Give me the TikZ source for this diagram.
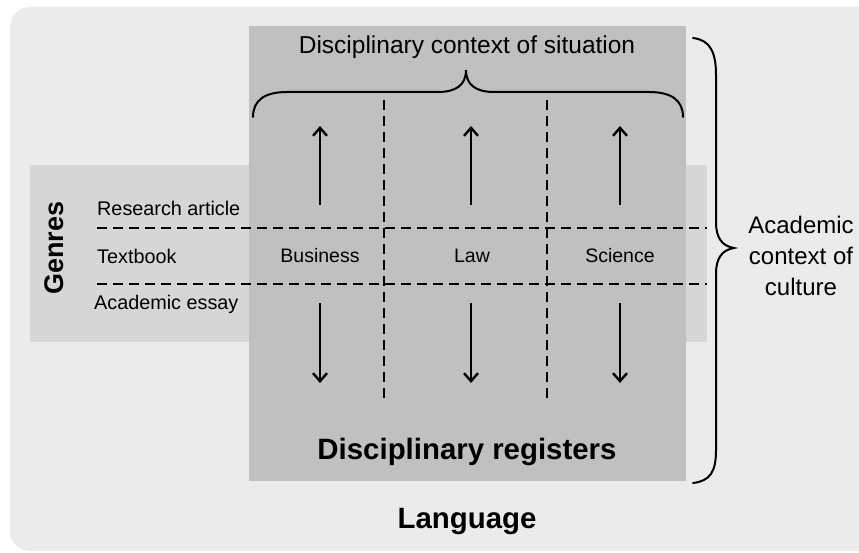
\documentclass[tikz,border=0pt]{standalone}
\usepackage{fontspec}
\setmainfont{Liberation Sans}
\usetikzlibrary{arrows.meta}
\definecolor{outerbg}{HTML}{EBEBEB}
\definecolor{genreband}{HTML}{D6D6D6}
\definecolor{registerbox}{HTML}{C0C0C0}
\tikzset{
  divider/.style={line width=1.5pt, dash pattern=on 10pt off 6pt},
  flow/.style={line width=2.4pt, -{Straight Barb[length=8pt,width=14pt,line width=2.4pt]}},
  bracepath/.style={line width=2pt, line cap=round},
  genre/.style={anchor=west, inner sep=0pt, font=\fontsize{19.8}{23}\selectfont},
  field/.style={inner sep=0pt, font=\fontsize{19.5}{22}\selectfont},
  heading/.style={inner sep=0pt, font=\fontsize{29.4}{34}\selectfont\bfseries},
}
\begin{document}
\begin{tikzpicture}[x=1pt, y=-1pt]
  \useasboundingbox (0,0) rectangle (859,553);
  \clip (0,0) rectangle (859,553);

  % layered backgrounds
  \fill[outerbg, rounded corners=20pt] (10,7) rectangle (890,551);
  \fill[genreband] (30,165) rectangle (707,342);
  \fill[registerbox] (249,26) rectangle (686,481);

  % genre dividers
  \coordinate (h1a) at (97,228);  \coordinate (h1b) at (707,228);
  \coordinate (h2a) at (97,284);  \coordinate (h2b) at (707,284);
  \draw[divider] (h1a) -- (h1b);
  \draw[divider] (h2a) -- (h2b);

  % discipline dividers
  \coordinate (v1a) at (384,100); \coordinate (v1b) at (384,402);
  \coordinate (v2a) at (547,100); \coordinate (v2b) at (547,402);
  \draw[divider] (v1a) -- (v1b);
  \draw[divider] (v2a) -- (v2b);

  % genre labels
  \node[genre] (research) at (97,208) {Research article};
  \node[genre] (textbook) at (97,256) {Textbook};
  \node[genre] (essay) at (94,304) {Academic essay};
  \node[inner sep=0pt, rotate=90, font=\fontsize{27}{32}\selectfont\bfseries] (genres) at (54,248) {Genres};

  % disciplines
  \node[field] (business) at (320,256) {Business};
  \node[field] (law) at (472,256) {Law};
  \node[field] (science) at (620,256) {Science};

  % arrows up and down from each discipline
  \foreach \n/\x in {business/320, law/471, science/620}{
    \coordinate (\n-up0) at (\x,205);
    \coordinate (\n-up1) at (\x,126);
    \coordinate (\n-dn0) at (\x,303);
    \coordinate (\n-dn1) at (\x,383);
    \draw[flow] (\n-up0) -- (\n-up1);
    \draw[flow] (\n-dn0) -- (\n-dn1);
  }

  % top brace and its label
  \node[inner sep=0pt, font=\fontsize{24.5}{29}\selectfont] (situation) at (467,47) {Disciplinary context of situation};
  \draw[bracepath] (253,117) .. controls (253,100) and (265,92) .. (287,92)
    -- (438,92) .. controls (456,92) and (466,85) .. (466,70)
    .. controls (466,85) and (476,92) .. (494,92)
    -- (649,92) .. controls (671,92) and (683,100) .. (683,117);

  % bottom headings
  \node[heading] (registers) at (467,452) {Disciplinary registers};
  \node[heading] (language) at (467,521) {Language};

  % right brace and its label
  \draw[bracepath] (693,38) .. controls (710,40) and (716,52) .. (716,75)
    -- (716,222) .. controls (716,238) and (722,246) .. (734,248)
    .. controls (722,250) and (716,258) .. (716,274)
    -- (716,450) .. controls (716,472) and (710,481) .. (693,483);
  \node[inner sep=0pt, align=center, font=\fontsize{24}{31}\selectfont] (culture) at (801,256) {Academic\\context of\\culture};
\end{tikzpicture}
\end{document}
